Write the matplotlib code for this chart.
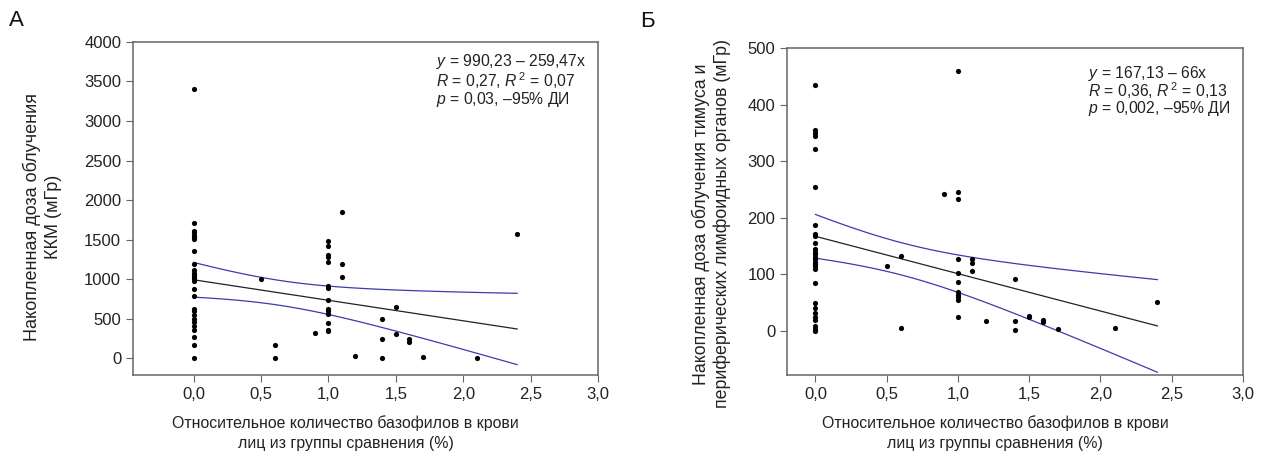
import numpy as np
import matplotlib.pyplot as plt

plt.rcParams['font.family'] = ['Liberation Sans', 'DejaVu Sans']
plt.rcParams['mathtext.fontset'] = 'custom'
plt.rcParams['mathtext.rm'] = 'Liberation Sans'
plt.rcParams['mathtext.it'] = 'Liberation Sans:italic'

# Панель А: доза на ККМ (мГр) против доли базофилов (%)
x_a = [0.0] * 27 + [0.5, 0.6, 0.6, 0.9] + [1.0] * 14 + [1.1, 1.1, 1.1, 1.2, 1.4, 1.4, 1.4,
                                                        1.5, 1.5, 1.6, 1.6, 1.7, 2.1, 2.4]
y_a = [3400, 1710, 1610, 1590, 1560, 1530, 1510, 1350, 1190, 1110, 1080, 1050, 1030, 1000,
       980, 870, 790, 620, 600, 540, 500, 450, 400, 360, 260, 170, 0,
       1000, 170, 0, 320,
       1480, 1420, 1310, 1280, 1220, 910, 890, 740, 620, 590, 560, 440, 360, 340,
       1850, 1190, 1020, 20, 500, 240, 0, 640, 310, 240, 200, 10, 0, 1570]
coef_a = (990.23, -259.47)
txt_a = ['$y$ = 990,23 – 259,47x', '$R$ = 0,27, $R^{\\,2}$ = 0,07', '$p$ = 0,03, –95% ДИ']

# Панель Б: доза на тимус и периферические лимфоидные органы (мГр)
x_b = [0.0] * 28 + [0.5, 0.6, 0.6, 0.9] + [1.0] * 11 + [1.1, 1.1, 1.1, 1.2, 1.4, 1.4, 1.4,
                                                        1.5, 1.5, 1.6, 1.6, 1.7, 2.1, 2.4]
y_b = [435, 355, 350, 345, 322, 255, 187, 172, 168, 155, 145, 140, 136, 131, 127, 122,
       118, 114, 109, 85, 50, 40, 32, 25, 19, 8, 4, 0,
       115, 132, 5, 242,
       460, 245, 233, 127, 103, 87, 68, 64, 60, 55, 25,
       127, 120, 105, 18, 92, 18, 2, 27, 24, 20, 16, 4, 5, 51]
coef_b = (167.13, -66.0)
txt_b = ['$y$ = 167,13 – 66x', '$R$ = 0,36, $R^{\\,2}$ = 0,13', '$p$ = 0,002, –95% ДИ']

x_ticks = [0.0, 0.5, 1.0, 1.5, 2.0, 2.5, 3.0]


def draw_panel(ax, xs, ys, coef, txt, ylim, yticks, xlim, txt_pos):
    xs = np.array(xs)
    ys = np.array(ys, dtype=float)
    ax.scatter(xs, ys, s=14, color='black', zorder=3, linewidths=0)

    # линия регрессии и 95% ДИ
    xx = np.linspace(xs.min(), xs.max(), 100)
    yy = coef[0] + coef[1] * xx
    n = len(xs)
    resid = ys - (coef[0] + coef[1] * xs)
    s = np.sqrt(np.sum(resid ** 2) / (n - 2))
    sxx = np.sum((xs - xs.mean()) ** 2)
    half = 2.0 * s * np.sqrt(1 / n + (xx - xs.mean()) ** 2 / sxx)
    ax.plot(xx, yy, color='#222222', lw=0.9)
    ax.plot(xx, yy + half, color='#3c3cac', lw=0.9)
    ax.plot(xx, yy - half, color='#3c3cac', lw=0.9)

    ax.set_xlim(*xlim)
    ax.set_ylim(*ylim)
    ax.set_xticks(x_ticks)
    ax.set_xticklabels([f'{t:.1f}'.replace('.', ',') for t in x_ticks])
    ax.set_yticks(yticks)
    for sp in ax.spines.values():
        sp.set_color('#666666')
        sp.set_linewidth(1.1)
    ax.tick_params(labelsize=12, colors='#222222', length=5, color='#666666')

    ax.set_xlabel('Относительное количество базофилов в крови\nлиц из группы сравнения (%)',
                  fontsize=11.4, color='#222222', linespacing=1.4)
    ax.xaxis.set_label_coords(0.457, -0.122)

    x0, y0, dy = txt_pos
    for i, line in enumerate(txt):
        ax.text(x0, y0 - i * dy, line, transform=ax.transAxes, fontsize=11.3,
                color='#222222', va='center')


fig = plt.figure(figsize=(12.63, 4.55), dpi=100)
ax_a = fig.add_axes([0.1053, 0.1758, 0.3682, 0.7319])
ax_b = fig.add_axes([0.6231, 0.1758, 0.3610, 0.7187])

draw_panel(ax_a, x_a, y_a, coef_a, txt_a, (-215, 4000), range(0, 4001, 500), (-0.45, 3.0),
           (0.652, 0.94, 0.057))
draw_panel(ax_b, x_b, y_b, coef_b, txt_b, (-78, 500), range(0, 501, 100), (-0.2, 3.0),
           (0.66, 0.9235, 0.055))

ax_a.set_ylabel('Накопленная доза облучения\nККМ (мГр)', fontsize=13, color='#222222',
                linespacing=1.3)
ax_a.yaxis.set_label_coords(-0.153, 0.474)
ax_b.set_ylabel('Накопленная доза облучения тимуса и\nпериферических лимфоидных органов (мГр)',
                fontsize=12.8, color='#222222', linespacing=1.25)
ax_b.yaxis.set_label_coords(-0.123, 0.462)

fig.text(0.007, 0.955, 'А', fontsize=16, color='#111111', va='center')
fig.text(0.507, 0.953, 'Б', fontsize=16, color='#111111', va='center')

fig.savefig('out.png', dpi=100)
